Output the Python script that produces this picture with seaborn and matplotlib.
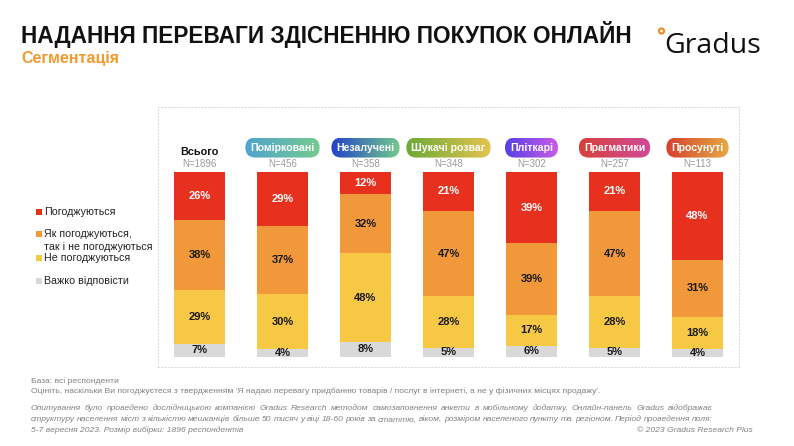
import numpy as np
import pandas as pd
import matplotlib
matplotlib.use("Agg")
import matplotlib.pyplot as plt
from matplotlib.patches import FancyBboxPatch, Rectangle, Circle
from matplotlib.colors import LinearSegmentedColormap
import seaborn as sns

# --- data ---
segments = ["Всього", "Помірковані", "Незалучені", "Шукачі розваг", "Пліткарі", "Прагматики", "Просунуті"]
sample_n = [1896, 456, 358, 348, 302, 257, 113]
agree = [26, 29, 12, 21, 39, 21, 48]
neutral = [38, 37, 32, 47, 39, 47, 31]
disagree = [29, 30, 48, 28, 17, 28, 18]
hard_to_say = [7, 4, 8, 5, 6, 5, 4]
legend_labels = ["Погоджуються", "Як погоджуються,\nтак і не погоджуються", "Не погоджуються", "Важко відповісти"]

RED, ORANGE, YELLOW, GREY = "#E8301F", "#F0983A", "#F6C843", "#D9D9D9"
pill_colors = [None, ("#4FA3CF", "#74CC8C"), ("#2341C9", "#72CC8A"), ("#6BAA36", "#E6C350"),
               ("#5640E2", "#C85BEA"), ("#D8403A", "#D04A98"), ("#D5402C", "#E6AA45")]

sns.set_theme(style="white")
plt.rcParams["font.family"] = ["Liberation Sans", "DejaVu Sans"]

df = pd.DataFrame({"segment": segments, "agree": agree, "neutral": neutral,
                   "disagree": disagree, "hard": hard_to_say})
cols = ["hard", "disagree", "neutral", "agree"]
share = df[cols].div(df[cols].sum(axis=1), axis=0) * 100
cum = share.cumsum(axis=1)

fig = plt.figure(figsize=(7.94, 4.46), dpi=100)
ax = fig.add_axes([158 / 794, 1 - 367 / 446, (739 - 158) / 794, (367 - 107) / 446])

# overlapping cumulative bars -> stacked look
for col, color in zip(["agree", "neutral", "disagree", "hard"], [RED, ORANGE, YELLOW, GREY]):
    sns.barplot(x=df["segment"], y=cum[col], color=color, saturation=1, width=0.625,
                errorbar=None, edgecolor="none", linewidth=0, ax=ax)

ax.set_xlim(-0.5, 6.5)
ax.set_ylim(-5.6, 135.4)
ax.set_xticks([])
ax.set_yticks([])
ax.set_xlabel("")
ax.set_ylabel("")
for s in ax.spines.values():
    s.set_visible(True)
    s.set_linestyle((0, (1, 2)))
    s.set_color("#dcdcdc")
    s.set_linewidth(0.8)

# value labels
for i in range(len(segments)):
    lower = 0
    for col, txt_color in zip(cols, ["#1a1a1a", "#1a1a1a", "#1a1a1a", "white"]):
        upper = cum.loc[i, col]
        ax.text(i, (lower + upper) / 2, f"{df.loc[i, col]}%", ha="center", va="center",
                fontsize=8, fontweight="bold", color=txt_color)
        lower = upper
    ax.text(i, 104.6, f"N={sample_n[i]}", ha="center", va="center", fontsize=7, color="#9a9a9a")

# overlay in pixel coordinates
ov = fig.add_axes([0, 0, 1, 1], zorder=5)
ov.set_xlim(0, 794)
ov.set_ylim(446, 0)
ov.axis("off")
ov.patch.set_alpha(0)


def to_px(x, y):
    return ov.transData.inverted().transform(ax.transData.transform((x, y)))


fig.canvas.draw()
renderer = fig.canvas.get_renderer()
for i, name in enumerate(segments):
    cx, cy = to_px(i, 113.4)
    if pill_colors[i] is None:
        cx, cy = to_px(i, 111.2)
        ov.text(cx, cy, name, ha="center", va="center", fontsize=7.8, fontweight="bold", color="#111111")
        continue
    t = ov.text(cx, cy, name, ha="center", va="center", fontsize=7.6, fontweight="bold",
                color="white", zorder=7)
    tw = t.get_window_extent(renderer).width
    w, h = tw + 10, 20
    box = FancyBboxPatch((cx - w / 2, cy - h / 2), w, h,
                         boxstyle=f"round,pad=0,rounding_size={h / 2}",
                         facecolor="none", edgecolor="none")
    ov.add_patch(box)
    cmap = LinearSegmentedColormap.from_list("pill", list(pill_colors[i]))
    im = ov.imshow(np.linspace(0, 1, 256).reshape(1, -1), cmap=cmap, aspect="auto",
                   extent=(cx - w / 2, cx + w / 2, cy + h / 2, cy - h / 2), zorder=6)
    im.set_clip_path(box)

ov.set_xlim(0, 794)
ov.set_ylim(446, 0)

# legend
leg_y = [212, 234, 258, 281]
for lab, color, y in zip(legend_labels, [RED, ORANGE, YELLOW, GREY], leg_y):
    ov.add_patch(Rectangle((36, y - 2.8), 5.6, 5.6, facecolor=color, edgecolor="none"))
    for k, line in enumerate(lab.split("\n")):
        ov.text(44, y + k * 12.7, line, ha="left", va="center", fontsize=7.7, color="#222222")

# title block
ov.text(21, 43, "НАДАННЯ ПЕРЕВАГИ ЗДІСНЕННЮ ПОКУПОК ОНЛАЙН", ha="left", va="baseline",
        fontsize=16.3, fontweight="bold", color="#111111")
ov.text(21, 63, "Сегментація", ha="left", va="baseline", fontsize=11.5, fontweight="bold", color="#F39A2E")
ov.add_patch(Circle((661.5, 31), 2.5, facecolor="none", edgecolor="#F08A2A", linewidth=1.6))
ov.text(664, 53, "Gradus", ha="left", va="baseline", fontsize=20.5, color="#111111",
        family=["Open Sans", "DejaVu Sans"])

# footer
foot = "#808080"
fs = 6.1


def justified(y, line, x0, x1):
    words = line.split()
    texts = [ov.text(0, y, wd, fontsize=fs, color=foot, va="baseline", style="italic") for wd in words]
    widths = [tx.get_window_extent(renderer).width for tx in texts]
    gap = (x1 - x0 - sum(widths)) / (len(words) - 1)
    x = x0
    for tx, wdt in zip(texts, widths):
        tx.set_x(x)
        x += wdt + gap


ov.text(31, 383, "База: всі респонденти", fontsize=fs, color=foot, va="baseline")
ov.text(31, 393, "Оцініть, наскільки Ви погоджуєтеся з твердженням 'Я надаю перевагу придбанню товарів / послуг в інтернеті, а не у фізичних місцях продажу'.",
        fontsize=fs, color=foot, va="baseline")
justified(410, "Опитування було проведено дослідницькою компанією Gradus Research методом самозаповнення анкети в мобільному додатку. Онлайн-панель Gradus відображає",
          31, 713)
justified(421, "структуру населення міст з кількістю мешканців більше 50 тисяч у віці 18-60 років за статтю, віком, розміром населеного пункту та регіоном. Період проведення поля:",
          31, 713)
ov.text(31, 432, "5-7 вересня 2023. Розмір вибірки: 1896 респондентів", fontsize=fs, color=foot,
        va="baseline", style="italic")
ov.text(753, 432, "© 2023 Gradus Research Plus", fontsize=fs, color=foot, va="baseline", ha="right",
        style="italic")

fig.savefig("out.png", dpi=100)
